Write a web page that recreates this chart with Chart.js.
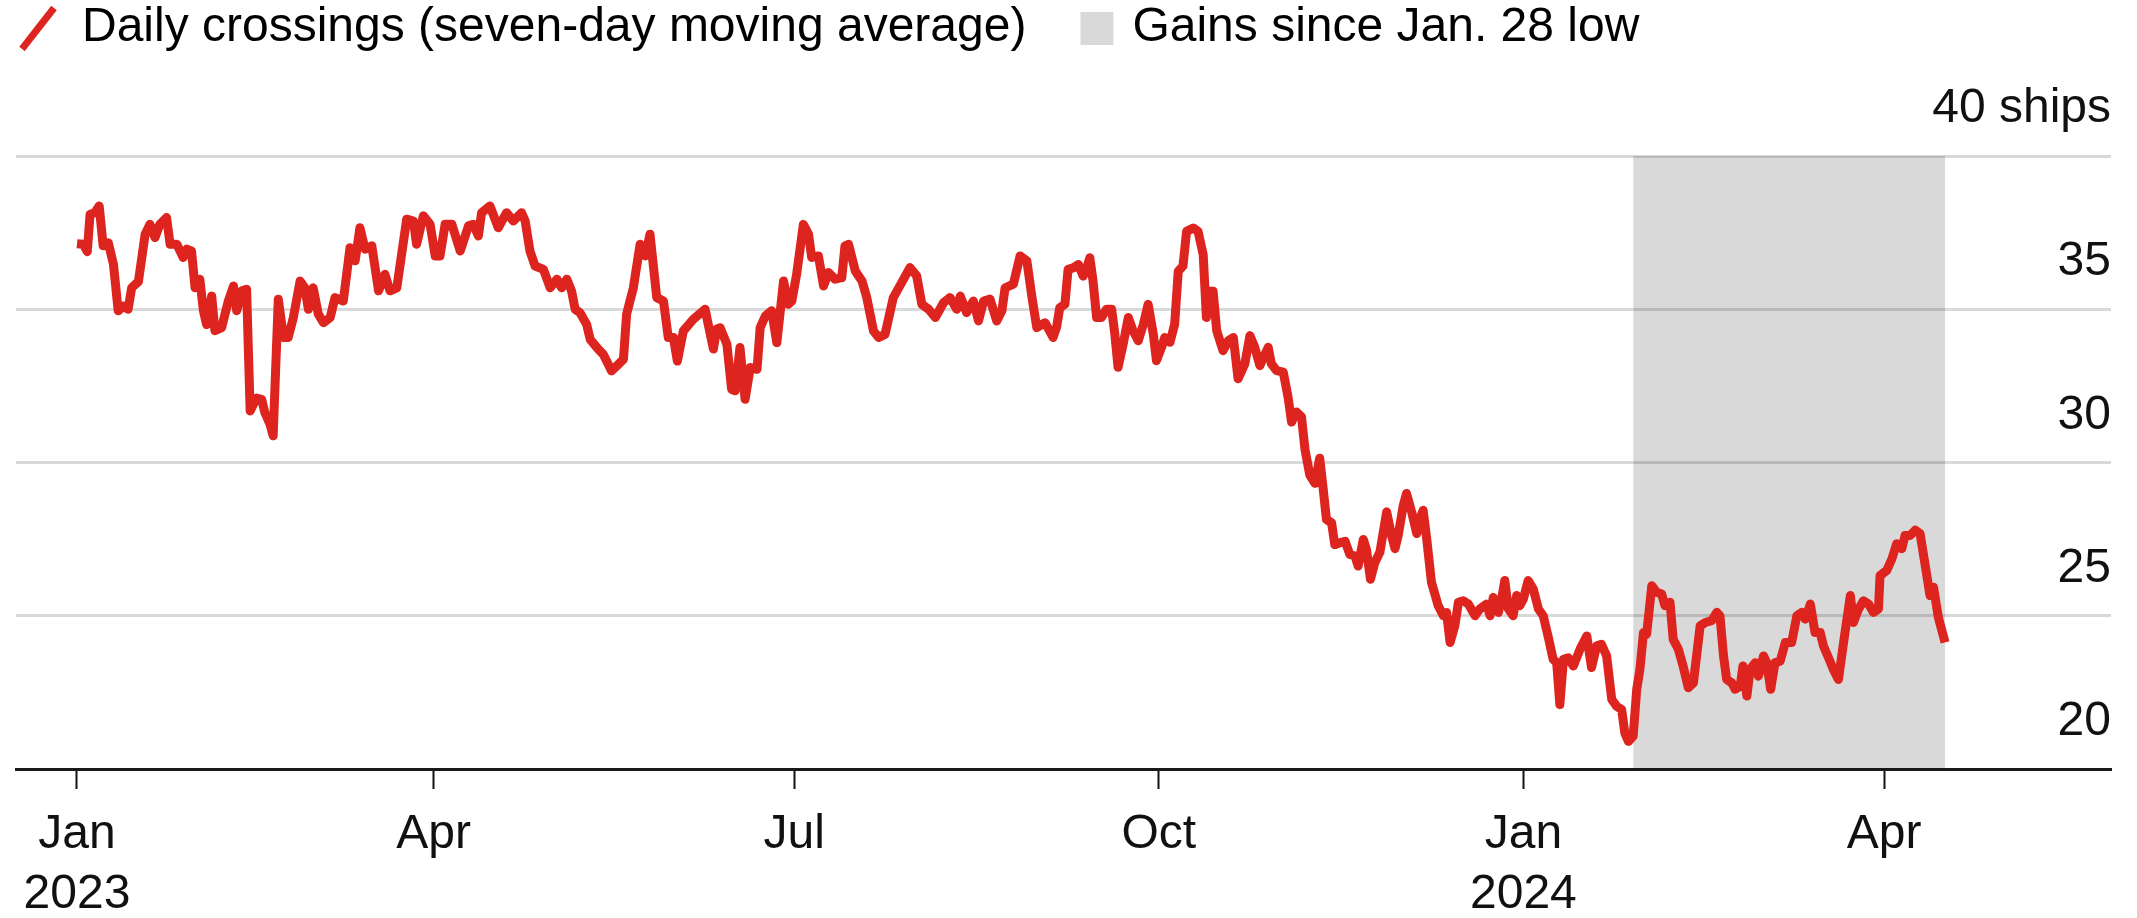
<!DOCTYPE html>
<html>
<head>
<meta charset="utf-8">
<script src="https://cdn.jsdelivr.net/npm/chart.js@4.4.1/dist/chart.umd.min.js"></script>
<style>
  html, body { margin: 0; padding: 0; background: #ffffff; }
  #wrap { width: 2137px; height: 918px; }
  canvas { display: block; }
</style>
</head>
<body>
<div id="wrap"><canvas id="c" width="2137" height="918" style="width:2137px;height:918px"></canvas></div>
<script>
// ---- data (days counted from Jan 1, 2023) ----
const days = [
  0, 1.6, 2.6, 3.3, 4.5, 5.6, 6.6, 7.9, 9.2, 10.4, 11.7, 12.9, 13.8, 15.5, 17.2, 18.4, 19.7, 20.9, 22.6, 23.5,
  25.2, 26.8, 27.7, 28.9, 29.8, 31.0, 31.9, 32.7, 34.0, 34.8, 36.5, 38.2, 39.5, 40.3, 41.6, 42.8, 43.7, 45.3, 46.6, 47.4,
  48.7, 49.5, 50.8, 52.1, 53.3, 54.6, 56.3, 57.5, 58.4, 59.6, 60.9, 62.2, 63.9, 65.1, 67.2, 68.9, 70.2, 71.4, 72.7, 74.4,
  76.1, 77.7, 79.0, 80.7, 83.2, 84.9, 85.7, 87.4, 89.1, 90.4, 91.6, 92.9, 94.6, 96.7, 98.8, 100.0, 101.3, 102.1, 104.2, 106.3,
  108.4, 110.1, 112.2, 113.1, 114.3, 115.6, 117.7, 119.4, 121.1, 122.3, 123.6, 124.8, 125.7, 126.9, 128.6, 129.5, 131.2, 132.8, 134.9, 136.2,
  137.9, 138.7, 140.4, 142.1, 143.4, 144.6, 146.3, 148.0, 149.2, 150.5, 151.5, 153.0, 155.5, 158.5, 160.6, 161.4, 162.3, 164.0, 165.2, 166.1,
  167.3, 168.6, 169.9, 171.6, 172.4, 173.7, 175.3, 176.6, 178.3, 179.5, 180.4, 181.6, 183.3, 184.6, 185.4, 187.1, 188.4, 189.6, 191.3, 193.0,
  193.8, 194.7, 196.4, 198.1, 199.3, 201.0, 202.3, 203.9, 206.0, 208.1, 210.2, 211.9, 213.2, 214.9, 216.6, 218.7, 220.3, 222.0, 222.9, 224.5,
  226.2, 227.5, 228.8, 230.4, 232.1, 233.4, 234.2, 236.3, 238.0, 239.7, 241.0, 242.2, 244.3, 246.3, 247.2, 248.0, 249.3, 250.1, 251.4, 252.7,
  253.9, 254.8, 255.6, 256.4, 257.3, 258.5, 259.8, 261.1, 261.9, 262.7, 264.0, 265.3, 266.5, 267.8, 269.1, 270.3, 271.6, 272.4, 273.7, 274.5,
  275.8, 277.0, 277.9, 279.1, 280.0, 281.7, 282.9, 284.2, 285.0, 285.9, 286.7, 287.6, 289.2, 290.5, 291.8, 293.0, 294.7, 296.0, 297.2, 298.5,
  300.6, 301.4, 302.7, 304.4, 305.6, 306.5, 307.7, 309.0, 309.9, 311.1, 312.4, 313.6, 314.5, 315.3, 316.6, 317.4, 318.7, 320.0, 321.2, 322.5,
  323.3, 324.6, 325.4, 326.4, 327.5, 328.8, 330.5, 331.7, 332.6, 333.4, 334.7, 335.5, 336.8, 338.1, 338.9, 339.7, 340.6, 341.8, 343.5, 344.8,
  345.6, 346.5, 347.7, 348.6, 349.8, 351.1, 352.8, 354.0, 355.7, 356.6, 357.4, 358.7, 359.5, 360.3, 361.2, 362.4, 363.3, 364.1, 365.0, 366.2,
  367.5, 368.8, 370.0, 371.3, 372.5, 373.4, 374.2, 375.1, 376.3, 377.6, 379.3, 381.0, 382.2, 383.5, 384.7, 386.0, 387.3, 388.5, 389.8, 390.6,
  391.5, 392.7, 393.6, 394.4, 395.3, 396.1, 397.4, 398.6, 399.9, 400.7, 402.0, 402.8, 404.1, 405.3, 406.6, 407.9, 409.6, 410.9, 412.5, 413.8,
  414.6, 415.5, 416.3, 417.6, 418.4, 419.7, 420.4, 421.4, 422.2, 423.5, 424.3, 425.6, 426.4, 427.4, 428.5, 429.8, 431.1, 432.7, 434.0, 435.3,
  436.1, 437.4, 438.6, 439.9, 440.7, 442.0, 443.2, 444.5, 445.8, 447.5, 448.3, 449.6, 450.8, 452.1, 453.3, 454.6, 455.0, 456.7, 458.0, 459.2,
  460.5, 461.3, 462.6, 463.9, 465.1, 466.4, 467.6, 468.5, 469.7, 471.4
];
const crossings = [
  37.14, 37.12, 36.88, 38.10, 38.15, 38.37, 37.07, 37.17, 36.47, 34.95, 35.10, 35.00, 35.70, 35.90, 37.45, 37.77, 37.34, 37.77, 37.99, 37.12,
  37.12, 36.69, 36.96, 36.90, 35.70, 35.98, 34.95, 34.50, 35.43, 34.30, 34.40, 35.27, 35.76, 34.95, 35.60, 35.65, 31.68, 32.10, 32.06, 31.63,
  31.25, 30.87, 35.33, 34.08, 34.08, 34.73, 35.92, 35.70, 35.00, 35.70, 34.84, 34.56, 34.73, 35.38, 35.27, 37.01, 36.58, 37.66, 36.96, 37.07,
  35.60, 36.14, 35.60, 35.70, 37.94, 37.88, 37.12, 38.05, 37.77, 36.74, 36.74, 37.77, 37.77, 36.90, 37.72, 37.77, 37.39, 38.15, 38.37, 37.66,
  38.15, 37.88, 38.15, 37.88, 36.90, 36.41, 36.30, 35.70, 35.98, 35.70, 35.98, 35.60, 35.00, 34.89, 34.51, 34.02, 33.75, 33.53, 32.99, 33.15,
  33.37, 34.84, 35.70, 37.12, 36.74, 37.45, 35.38, 35.27, 34.08, 34.08, 33.31, 34.29, 34.67, 35.00, 33.70, 34.35, 34.40, 33.86, 32.39, 32.34,
  33.75, 32.06, 33.10, 33.04, 34.40, 34.78, 34.95, 33.91, 35.92, 35.16, 35.27, 36.14, 37.77, 37.45, 36.69, 36.74, 35.76, 36.20, 35.98, 36.03,
  37.07, 37.12, 36.25, 35.92, 35.38, 34.29, 34.08, 34.18, 35.38, 35.87, 36.36, 36.09, 35.16, 35.00, 34.73, 35.22, 35.38, 35.00, 35.43, 34.89,
  35.27, 34.62, 35.27, 35.33, 34.62, 34.95, 35.70, 35.82, 36.74, 36.58, 35.38, 34.40, 34.56, 34.08, 34.41, 35.05, 35.16, 36.30, 36.35, 36.46,
  36.08, 36.35, 36.68, 35.92, 34.73, 34.73, 35.00, 35.00, 34.19, 33.11, 33.86, 34.73, 34.30, 33.97, 34.51, 35.16, 34.19, 33.32, 33.76, 34.08,
  33.92, 34.51, 36.24, 36.41, 37.54, 37.65, 37.54, 36.78, 34.73, 35.59, 35.59, 34.30, 33.65, 33.97, 34.08, 32.73, 33.22, 34.14, 33.76, 33.16,
  33.76, 33.22, 33.00, 32.95, 32.14, 31.32, 31.65, 31.49, 30.41, 29.59, 29.32, 30.14, 29.11, 28.14, 28.03, 27.32, 27.38, 27.43, 27.00, 26.95,
  26.62, 27.49, 27.16, 26.19, 26.73, 27.08, 28.39, 27.62, 27.19, 27.62, 28.61, 28.99, 28.39, 27.68, 28.17, 28.44, 27.51, 26.09, 25.33, 25.00,
  25.11, 24.13, 24.67, 25.44, 25.49, 25.38, 25.00, 25.22, 25.38, 25.00, 25.60, 25.11, 25.55, 26.15, 25.22, 25.00, 25.66, 25.33, 25.55, 26.15,
  25.87, 25.22, 25.00, 24.29, 23.58, 23.47, 22.10, 23.58, 23.63, 23.36, 23.91, 24.34, 23.31, 24.02, 24.07, 23.69, 22.27, 22.05, 21.94, 21.17,
  20.90, 21.07, 22.60, 23.25, 24.45, 24.40, 25.98, 25.77, 25.71, 25.33, 25.44, 24.23, 23.91, 23.36, 22.65, 22.81, 24.67, 24.78, 24.84, 25.11,
  25.00, 23.69, 22.92, 22.81, 22.60, 22.70, 23.36, 22.38, 23.25, 23.47, 23.03, 23.69, 23.47, 22.60, 23.47, 23.52, 24.13, 24.13, 25.00, 25.11,
  24.89, 25.38, 24.45, 24.45, 24.02, 23.63, 23.25, 22.92, 24.13, 25.66, 24.78, 25.22, 25.49, 25.38, 25.11, 25.22, 26.31, 26.48, 26.86, 27.35,
  27.19, 27.62, 27.62, 27.79, 27.68, 26.64, 25.66, 25.93, 24.95, 24.13
];
const shadeDays = [392.7, 471.4];   // Jan. 28 low through latest reading
const shadeTop = [40, 40];
const monthTickDays = [0, 90, 181, 273, 365, 456];
const monthTickLabels = [['Jan', '2023'], ['Apr'], ['Jul'], ['Oct'], ['Jan', '2024'], ['Apr']];
const yTickValues = [20, 25, 30, 35, 40];
const yTickLabels = ['20', '25', '30', '35', '40 ships'];
const seriesLabels = ['Daily crossings (seven-day moving average)', 'Gains since Jan. 28 low'];

// ---- styling ----
const RED = '#de241e';
const SHADE = 'rgba(0,0,0,0.15)';
const FONT = "'Liberation Sans', Arial, Helvetica, sans-serif";
const PLOT_TOP = 156;

function makeSlash() {
  const c = document.createElement('canvas');
  c.width = 52; c.height = 46;
  const g = c.getContext('2d');
  g.strokeStyle = RED; g.lineWidth = 7; g.lineCap = 'butt';
  g.beginPath(); g.moveTo(10, 44); g.lineTo(42, 3); g.stroke();
  return c;
}
function makeSquare() {
  const c = document.createElement('canvas');
  c.width = 134; c.height = 40;
  const g = c.getContext('2d');
  g.fillStyle = '#d9d9d9';
  g.fillRect(99, 4, 33, 33);
  return c;
}
const slashImg = makeSlash();
const squareImg = makeSquare();

const ctx = document.getElementById('c').getContext('2d');
new Chart(ctx, {
  type: 'line',
  data: {
    datasets: [
      {
        label: seriesLabels[0],
        data: days.map((d, i) => ({ x: d, y: crossings[i] })),
        borderColor: RED,
        borderWidth: 9,
        pointRadius: 0,
        tension: 0,
        fill: false,
        borderJoinStyle: 'round',
        borderCapStyle: 'butt',
        order: 0
      },
      {
        label: seriesLabels[1],
        data: shadeDays.map((d, i) => ({ x: d, y: shadeTop[i] })),
        borderColor: 'rgba(0,0,0,0)',
        borderWidth: 0,
        pointRadius: 0,
        backgroundColor: SHADE,
        fill: 'start',
        order: 1
      }
    ]
  },
  options: {
    responsive: false,
    animation: false,
    events: [],
    layout: { padding: { left: 16, right: 26, top: 2, bottom: 0 } },
    scales: {
      x: {
        type: 'linear',
        min: -15.39,
        max: 513.28,
        afterBuildTicks: s => { s.ticks = monthTickDays.map(v => ({ value: v })); },
        afterFit: s => { s.height = 149; s.paddingLeft = 0; s.paddingRight = 0; },
        ticks: {
          autoSkip: false,
          maxRotation: 0,
          minRotation: 0,
          padding: 16,
          color: '#111',
          font: { family: FONT, size: 48, lineHeight: 1.25 },
          callback: (v, i) => monthTickLabels[i]
        },
        grid: {
          drawOnChartArea: false,
          drawTicks: true,
          tickLength: 20,
          tickColor: '#111',
          tickWidth: 2
        },
        border: { display: true, color: '#1a1a1a', width: 3 }
      },
      // empty spacer band between the legend and the plot area
      xSpacer: {
        type: 'linear',
        position: 'top',
        display: true,
        ticks: { display: false },
        grid: { display: false, drawTicks: false },
        border: { display: false },
        afterFit: s => {
          const lh = s.chart.legend ? s.chart.legend.height : 60;
          s.height = Math.max(0, PLOT_TOP - 2 - lh);
          s.paddingLeft = 0; s.paddingRight = 0;
        }
      },
      y: {
        position: 'right',
        min: 20,
        max: 40,
        afterBuildTicks: s => { s.ticks = yTickValues.map(v => ({ value: v })); },
        afterFit: s => { s.paddingTop = 0; s.paddingBottom = 0; },
        ticks: {
          mirror: true,
          padding: 0,
          labelOffset: -47,
          color: '#111',
          font: { family: FONT, size: 48 },
          callback: (v, i) => yTickLabels[i]
        },
        grid: { color: 'rgba(0,0,0,0.15)', lineWidth: 3, drawTicks: false },
        border: { display: false }
      }
    },
    plugins: {
      tooltip: { enabled: false },
      title: { display: false },
      legend: {
        display: true,
        position: 'top',
        align: 'start',
        labels: {
          usePointStyle: true,
          pointStyleWidth: 40,
          boxWidth: 40,
          boxHeight: 40,
          padding: 2,
          color: '#111',
          font: { family: FONT, size: 48 },
          generateLabels: () => [
            { text: seriesLabels[0], pointStyle: slashImg, fillStyle: RED, strokeStyle: RED, lineWidth: 0, hidden: false, datasetIndex: 0, rotation: 0 },
            { text: '   ' + seriesLabels[1], pointStyle: squareImg, fillStyle: '#d9d9d9', strokeStyle: '#d9d9d9', lineWidth: 0, hidden: false, datasetIndex: 1, rotation: 0 }
          ]
        }
      }
    }
  }
});
</script>
</body>
</html>
